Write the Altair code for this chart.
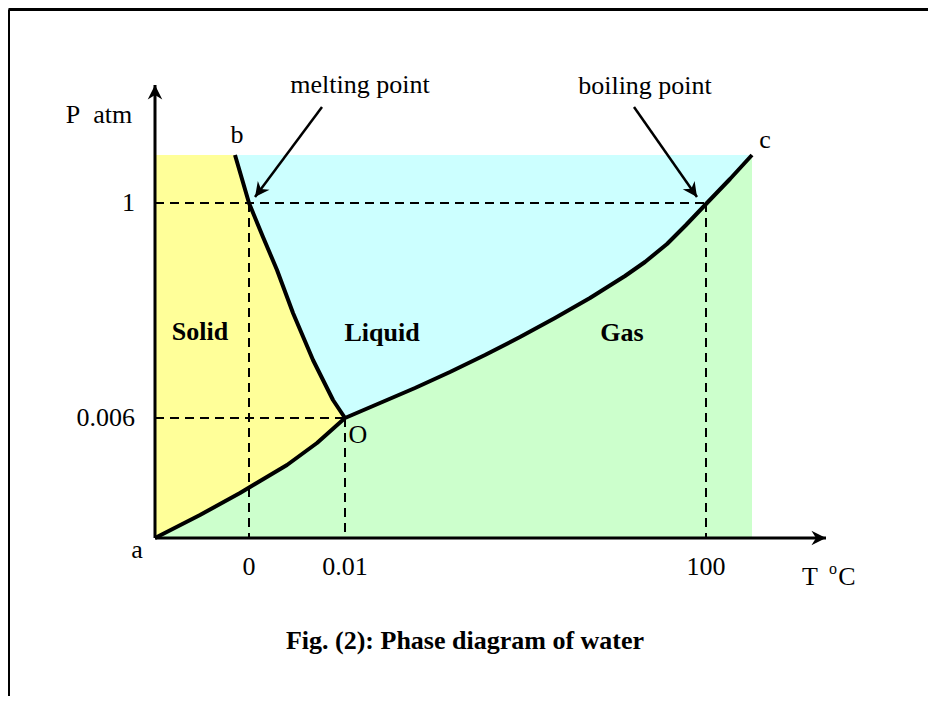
import altair as alt
import pandas as pd
import numpy as np

# ---- schematic coordinates (T to the right of origin a, P above it) ----
# sublimation curve a -> O
aO_T = [0, 45, 85, 95, 132, 162, 190]
aO_P = [0, 23, 45, 51, 73, 95, 120]
# vaporisation curve O -> c
Oc_T = [190, 225, 260, 295, 330, 365, 400, 435, 470, 490, 512, 531, 551, 575, 597]
Oc_P = [120, 135, 150, 166, 183, 201, 220, 240, 262, 276, 294, 313, 334, 359, 383]
# melting curve b -> O
bO_T = [80, 94, 108, 122, 138, 158, 178, 190]
bO_P = [383, 335, 301, 268, 225, 178, 138, 120]

# shaded region bounds
region_T = [0, 597]
region_P = [0, 383]

# dashed guide segments
dash_T = [0, 0, 94, 190, 551]
dash_T2 = [551, 190, 94, 190, 551]
dash_P = [335, 120, 335, 120, 335]
dash_P2 = [335, 120, 0, 0, 0]

# axes (with arrow tips)
axis_T = [0, 0]
axis_T2 = [0, 671]
axis_P = [0, 0]
axis_P2 = [453, 0]

# annotation arrows
ann_T = [167, 479]
ann_P = [431, 431]
ann_T2 = [100, 542]
ann_P2 = [341, 341]
ann_text = ["melting point", "boiling point"]
ann_text_T = [205, 490]
ann_text_P = [453, 452]

# tick labels
ytick_text = ["1", "0.006"]
ytick_P = [335, 120]
xtick_text = ["0", "0.01", "100"]
xtick_T = [94, 190, 551]

# point labels
pt_text = ["a", "b", "c", "O"]
pt_T = [-18, 82, 610, 203]
pt_P = [-12, 403, 398, 103]

# phase labels
phase_text = ["Solid", "Liquid", "Gas"]
phase_T = [45, 227, 467]
phase_P = [206, 205, 205]

# page frame
frame_T = [-146.5, 773]
frame_P = [-158, 528.5]

FONT = "Liberation Serif"
xs = alt.Scale(domain=[-147, 773], nice=False, zero=False)
ys = alt.Scale(domain=[-158, 530], nice=False, zero=False)


def X(f="T"):
    return alt.X(f"{f}:Q", scale=xs, axis=None)


def Y(f="P"):
    return alt.Y(f"{f}:Q", scale=ys, axis=None, stack=None)


# background (gas)
bg = pd.DataFrame({"T": [region_T[0]], "T2": [region_T[1]], "P": [region_P[0]], "P2": [region_P[1]]})
gas = alt.Chart(bg).mark_rect(color="#CCFFCC").encode(
    x=X(), x2=alt.X2("T2:Q"), y=Y(), y2=alt.Y2("P2:Q"))

# liquid: above a-O-c curve
curve_T = aO_T + Oc_T[1:]
curve_P = aO_P + Oc_P[1:]
up = pd.DataFrame({"T": curve_T, "P": curve_P, "top": region_P[1]})
liquid = alt.Chart(up).mark_area(color="#CCFFFF").encode(
    x=X(), y=Y(), y2=alt.Y2("top:Q"))

# solid: left of a-O and b-O boundary
left_T = aO_T + bO_T[::-1][1:]
left_P = aO_P + bO_P[::-1][1:]
lf = pd.DataFrame({"T": left_T, "P": left_P, "left": region_T[0]})
solid = alt.Chart(lf).mark_area(color="#FFFF99", orient="horizontal").encode(
    y=alt.Y("P:Q", scale=ys, axis=None, stack=None),
    x=alt.X("T:Q", scale=xs, axis=None, stack=None),
    x2=alt.X2("left:Q"))

dash_df = pd.DataFrame({"T": dash_T, "T2": dash_T2, "P": dash_P, "P2": dash_P2})
dashes = alt.Chart(dash_df).mark_rule(color="black", strokeWidth=2, strokeDash=[9, 6]).encode(
    x=X(), x2=alt.X2("T2:Q"), y=Y(), y2=alt.Y2("P2:Q"))

axes_df = pd.DataFrame({"T": axis_T, "T2": axis_T2, "P": axis_P, "P2": axis_P2})
axes = alt.Chart(axes_df).mark_rule(color="black", strokeWidth=3).encode(
    x=X(), x2=alt.X2("T2:Q"), y=Y(), y2=alt.Y2("P2:Q"))

ann_df = pd.DataFrame({"T": ann_T, "T2": ann_T2, "P": ann_P, "P2": ann_P2})
ann = alt.Chart(ann_df).mark_rule(color="black", strokeWidth=2.5).encode(
    x=X(), x2=alt.X2("T2:Q"), y=Y(), y2=alt.Y2("P2:Q"))

curve_df = pd.DataFrame({"T": curve_T, "P": curve_P, "i": range(len(curve_T))})
curve = alt.Chart(curve_df).mark_line(color="black", strokeWidth=4, strokeJoin="round").encode(
    x=X(), y=Y(), order="i:Q")
bO_df = pd.DataFrame({"T": bO_T, "P": bO_P, "i": range(len(bO_T))})
melt = alt.Chart(bO_df).mark_line(color="black", strokeWidth=4, strokeJoin="round").encode(
    x=X(), y=Y(), order="i:Q")

# arrowheads at tips, rotated along each arrow
tips_T = ann_T2 + [axis_T2[0], axis_T2[1]]
tips_P = ann_P2 + [axis_P2[0], axis_P2[1]]
src_T = ann_T + [axis_T[0], axis_T[1]]
src_P = ann_P + [axis_P[0], axis_P[1]]
ang = [float(np.degrees(np.arctan2(tT - sT, tP - sP)) % 360)
       for tT, tP, sT, sP in zip(tips_T, tips_P, src_T, src_P)]
heads_df = pd.DataFrame({"T": tips_T, "P": tips_P, "ang": ang})
heads = alt.Chart(heads_df).mark_point(
    shape="M0,0 L0.8,1.6 L0,1.1 L-0.8,1.6 Z", filled=True, size=330,
    color="black", opacity=1, strokeWidth=0).encode(
    x=X(), y=Y(), angle=alt.Angle("ang:Q", scale=None))

frame_df = pd.DataFrame({"T": [frame_T[0], frame_T[0]], "T2": [frame_T[0], frame_T[1]],
                         "P": [frame_P[0], frame_P[1]], "P2": [frame_P[1], frame_P[1]]})
frame = alt.Chart(frame_df).mark_rule(color="black", strokeWidth=3).encode(
    x=X(), x2=alt.X2("T2:Q"), y=Y(), y2=alt.Y2("P2:Q"))


def texts(txt, T, P, size=26, weight="normal", align="center"):
    df = pd.DataFrame({"T": T, "P": P, "txt": txt})
    return alt.Chart(df).mark_text(font=FONT, fontSize=size, fontWeight=weight,
                                   align=align, baseline="middle", color="black").encode(
        x=X(), y=Y(), text="txt:N")


ytl = texts(ytick_text, [-20] * len(ytick_text), ytick_P, align="right")
xtl = texts(xtick_text, xtick_T, [-29] * len(xtick_text))
ptl = texts(pt_text, pt_T, pt_P)
phl = texts(phase_text, phase_T, phase_P, weight="bold")
anl = texts(ann_text, ann_text_T, ann_text_P)
ylab = texts(["P\u00a0\u00a0atm"], [-56], [423])
xlab_T = texts(["T"], [655], [-39])
xlab_o = texts(["o"], [678], [-31], size=16)
xlab_C = texts(["C"], [692], [-39])
cap = texts(["Fig. (2): Phase diagram of water"], [310], [-103], weight="bold")

chart = alt.layer(
    gas, liquid, solid, dashes, curve, melt, axes, ann, heads, frame,
    ytl, xtl, ptl, phl, anl, ylab, xlab_T, xlab_o, xlab_C, cap
).properties(width=920, height=688, padding=0, autosize="none").configure_view(stroke=None)

chart.save("out.html", embed_options={"renderer": "svg", "actions": False})
